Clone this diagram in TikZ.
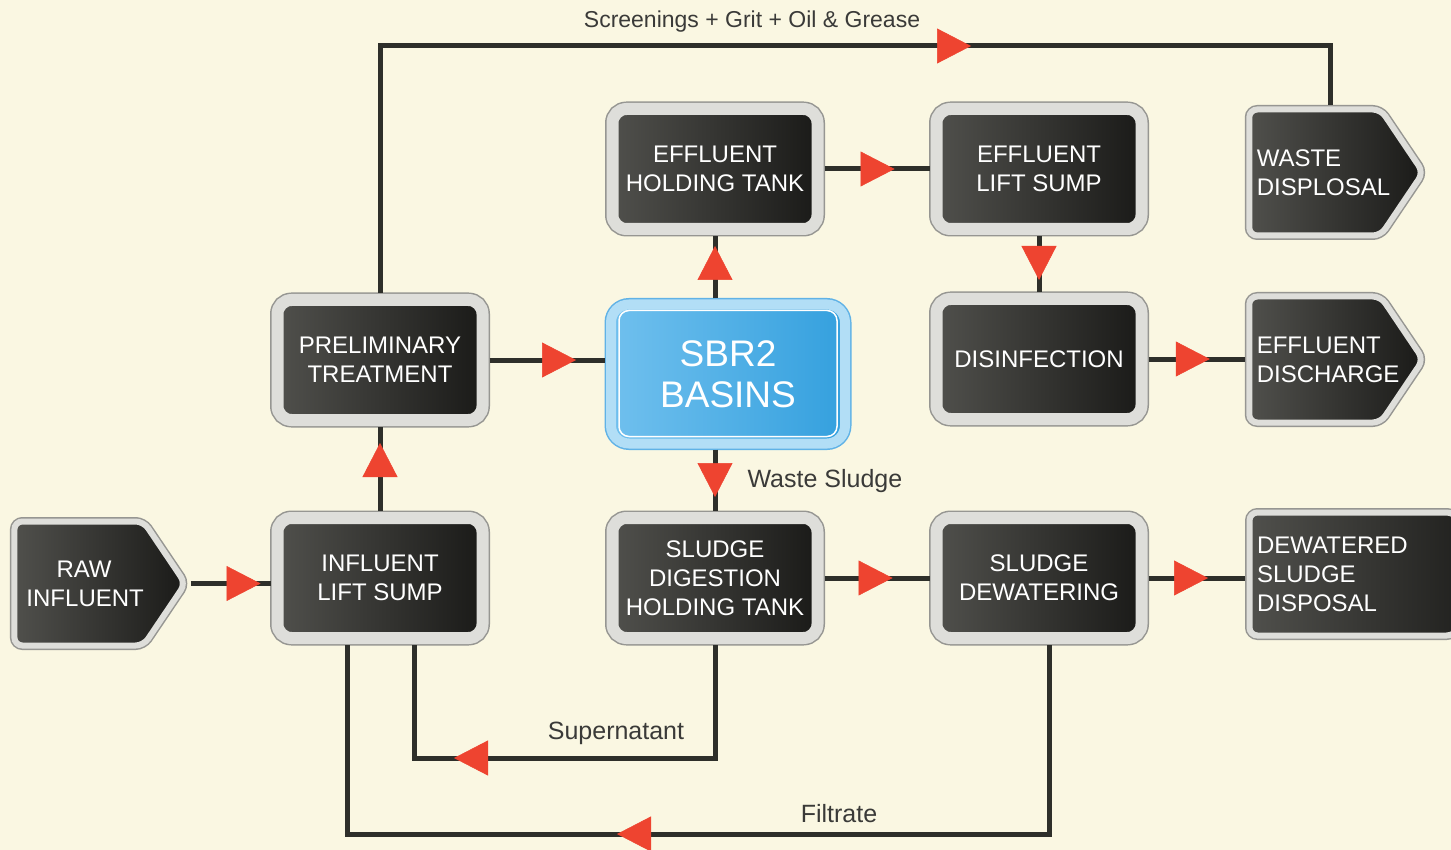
\documentclass[tikz,border=0pt]{standalone}
\usepackage{fontspec}
\setmainfont{Liberation Sans}
\usetikzlibrary{positioning,shapes.symbols,arrows.meta,decorations.markings}

\definecolor{paper}{RGB}{250,247,226}
\definecolor{pipe}{RGB}{46,47,42}
\definecolor{flowred}{RGB}{238,68,48}
\definecolor{rim}{RGB}{222,222,218}
\definecolor{rimedge}{RGB}{150,150,146}
\definecolor{tankhi}{RGB}{80,80,76}
\definecolor{tanklo}{RGB}{26,26,24}
\definecolor{sbrblue}{RGB}{52,160,222}
\definecolor{sbrlight}{RGB}{112,192,238}
\definecolor{sbrrim}{RGB}{178,222,246}
\definecolor{sbredge}{RGB}{96,178,230}
\definecolor{labeltext}{RGB}{58,58,56}

\tikzset{
  tank/.style={rectangle, rounded corners=14pt, minimum width=205pt, minimum height=120pt,
    left color=tankhi, right color=tanklo, draw=rim, line width=12pt,
    preaction={draw=rimedge, line width=15pt}, outer sep=7pt,
    text=white, align=center, font=\fontsize{24}{29}\selectfont, inner sep=0pt},
  outlet/.style={signal, signal to=east, signal pointer angle=112, rounded corners=8pt,
    minimum width=174pt, minimum height=126pt, text width=116.5pt, inner xsep=7.5pt, inner ysep=0pt,
    left color=tankhi, right color=tanklo, draw=rim, line width=6pt,
    preaction={draw=rimedge, line width=9pt}, outer sep=4.5pt,
    text=white, align=left, font=\fontsize{24}{29}\selectfont},
  basin/.style={rectangle, rounded corners=18pt, minimum width=234pt, minimum height=139pt,
    left color=sbrlight, right color=sbrblue, draw=sbrrim, line width=10pt,
    preaction={draw=sbredge, line width=13pt}, outer sep=6pt,
    text=white, align=center, font=\fontsize{37}{41}\selectfont},
  pipeline/.style={draw=pipe, line width=5pt},
  flowtip/.style={postaction={decorate, decoration={markings,
    mark=at position #1 with {\arrow{Triangle[length=34pt,width=35pt,line width=0.5pt,color=flowred]}}}}},
  flowlabel/.style={text=labeltext, font=\fontsize{25}{30}\selectfont},
}

\begin{document}
\begin{tikzpicture}[x=1pt, y=-1pt]
\useasboundingbox (0,0) rectangle (1451,850);
\fill[paper] (0,0) rectangle (1451,850);

% plant units
\node[outlet, minimum width=171pt, minimum height=124pt, text width=129pt, inner xsep=0pt] (raw) at (79,583.5){\hspace*{42pt}\mbox{RAW}\\\hspace*{12pt}\mbox{INFLUENT}};
\node[tank] (influent) at (380,578){INFLUENT\\LIFT SUMP};
\node[tank] (prelim) at (380,360){PRELIMINARY\\TREATMENT};
\node[basin] (sbr) at (728,374){SBR2\\BASINS};
\node[tank] (effhold) at (715,169){EFFLUENT\\HOLDING TANK};
\node[tank] (efflift) at (1039,169){EFFLUENT\\LIFT SUMP};
\node[tank] (disinf) at (1039,359){DISINFECTION};
\node[tank] (sludgedig) at (715,578){SLUDGE\\DIGESTION\\HOLDING TANK};
\node[tank] (dewater) at (1039,578){SLUDGE\\DEWATERING};
\node[outlet] (wastedisp) at (1315,172.5){WASTE\\DISPLOSAL};
\node[outlet] (effdisch) at (1315,359.5){EFFLUENT\\DISCHARGE};
\node[outlet, minimum height=123pt, text width=190pt] (dewdisp) at (1352,574){DEWATERED\\SLUDGE\\DISPOSAL};
\draw[white, line width=1.5pt, rounded corners=10pt] ([xshift=14pt,yshift=-12pt]sbr.north west) rectangle ([xshift=-14pt,yshift=13pt]sbr.south east);

% main flow
\draw[pipeline, flowtip=-10pt] (raw.east) -- (raw.east -| influent.west);
\draw[pipeline, flowtip=-16pt] (influent) -- (prelim);
\draw[pipeline, flowtip=-29pt] (prelim.east) -- (prelim.east -| sbr.west);
\draw[pipeline, flowtip=-10pt] (sbr.north -| effhold) -- (effhold.south);
\draw[pipeline, flowtip=-35pt] (effhold) -- (efflift);
\draw[pipeline, flowtip=-12pt] (efflift) -- (disinf);
\draw[pipeline, flowtip=-35pt] (disinf.east) -- (disinf.east -| effdisch.west);
\draw[pipeline, flowtip=-14pt] (sbr.south -| sludgedig) -- (sludgedig.north);
\draw[pipeline, flowtip=-37pt] (sludgedig) -- (dewater);
\draw[pipeline, flowtip=-37pt] (dewater.east) -- (dewater.east -| dewdisp.west);

% return lines
\coordinate (screen) at (752,46);
\coordinate (supbend) at (414,758);
\coordinate (filtbend) at (347,834);
\draw[pipeline, flowtip=838pt] (prelim.north) |- (screen) -| ([xshift=15pt]wastedisp.north);
\draw[pipeline, flowtip=374pt] (sludgedig.south) |- (supbend) -- ([xshift=34pt]influent.south);
\draw[pipeline, flowtip=621pt] ([xshift=10pt]dewater.south) |- (filtbend) -- ([xshift=-33pt]influent.south);

% labels
\node[flowlabel, font=\fontsize{23}{28}\selectfont] (screenlbl) at (752,22){Screenings + Grit + Oil \& Grease};
\node[flowlabel, anchor=west] (wastelbl) at (744,481){Waste Sludge};
\node[flowlabel] (suplbl) at (616,733){Supernatant};
\node[flowlabel] (filtlbl) at (839,814){Filtrate};
\end{tikzpicture}
\end{document}
